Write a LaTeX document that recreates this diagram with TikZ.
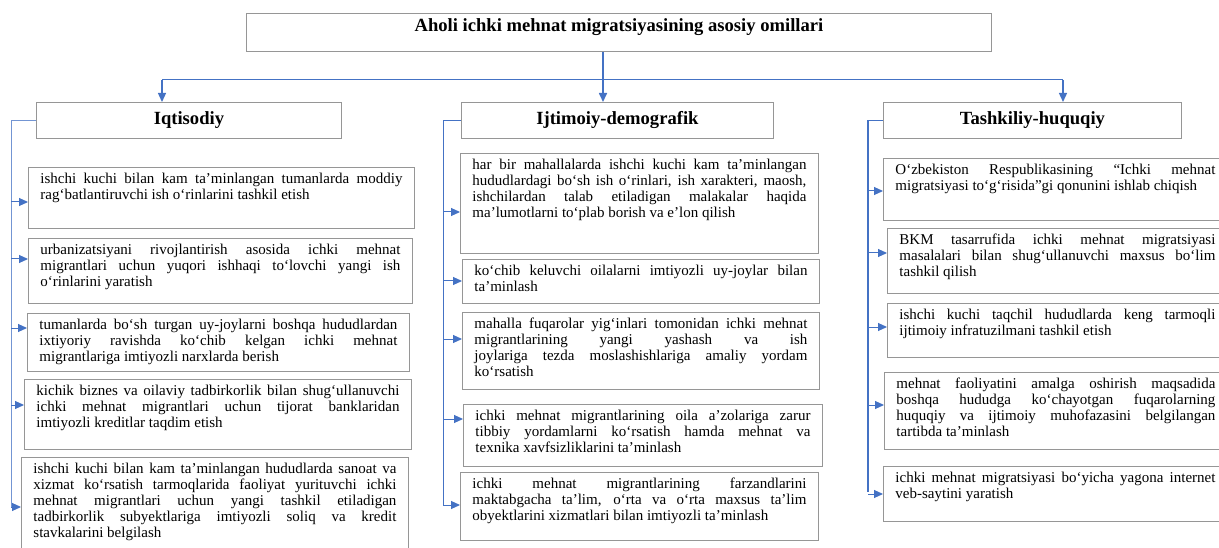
\documentclass[tikz,border=0pt]{standalone}
\usepackage{fontspec}
\setmainfont{Liberation Serif}
\usetikzlibrary{arrows.meta}
\definecolor{linkblue}{RGB}{68,114,196}
\definecolor{boxgray}{RGB}{150,150,150}
\hyphenpenalty=10000
\exhyphenpenalty=10000
\begin{document}
\begin{tikzpicture}[x=1pt, y=-1pt,
  box/.style={draw=boxgray, line width=0.9pt, anchor=north west, align=justify, inner xsep=12pt, inner ysep=5pt, text height=11pt, font=\fontsize{15}{16}\selectfont},
  head/.style={draw=boxgray, line width=0.9pt, anchor=north west, inner sep=0pt, minimum height=36pt, font=\fontsize{18.6}{20}\selectfont\bfseries},
  link/.style={draw=linkblue, line width=1pt},
  arr/.style={link, -{Triangle[length=9pt,width=8pt]}}]

\clip (0,0) rectangle (1219,548);

\node[head, minimum width=745pt, inner ysep=5pt, text height=13pt, text depth=15pt, minimum height=0pt] (title) at (246,13) {Aholi ichki mehnat migratsiyasining asosiy omillari};

\node[head, minimum width=305pt] (iqt) at (36,102) {Iqtisodiy};
\node[head, minimum width=312pt] (ijt) at (461,102) {Ijtimoiy-demografik};
\node[head, minimum width=298pt] (tash) at (883,102) {Tashkiliy-huquqiy};

% Iqtisodiy
\node[box, text width=362pt, text depth=40pt] (l1) at (28,167) {ishchi kuchi bilan kam ta’minlangan tumanlarda moddiy\linebreak rag‘batlantiruvchi ish o‘rinlarini tashkil etish};
\node[box, text width=360pt, text depth=44pt] (l2) at (28,238) {urbanizatsiyani rivojlantirish asosida ichki mehnat\linebreak migrantlari uchun yuqori ishhaqi to‘lovchi yangi ish\linebreak o‘rinlarini yaratish};
\node[box, text width=358pt, text depth=37pt] (l3) at (27,313) {tumanlarda bo‘sh turgan uy-joylarni boshqa hududlardan\linebreak ixtiyoriy ravishda ko‘chib kelgan ichki mehnat\linebreak migrantlariga imtiyozli narxlarda berish};
\node[box, text width=363pt, text depth=49pt] (l4) at (24,379) {kichik biznes va oilaviy tadbirkorlik bilan shug‘ullanuvchi\linebreak ichki mehnat migrantlari uchun tijorat banklaridan\linebreak imtiyozli kreditlar taqdim etish};
\node[box, text width=363pt, text depth=80pt] (l5) at (21,457) {ishchi kuchi bilan kam ta’minlangan hududlarda sanoat va\linebreak xizmat ko‘rsatish tarmoqlarida faoliyat yurituvchi ichki\linebreak mehnat migrantlari uchun yangi tashkil etiladigan\linebreak tadbirkorlik subyektlariga imtiyozli soliq va kredit\linebreak stavkalarini belgilash};

% Ijtimoiy-demografik
\node[box, text width=334pt, text depth=79pt] (m1) at (460,153) {har bir mahallalarda ishchi kuchi kam ta’minlangan\linebreak hududlardagi bo‘sh ish o‘rinlari, ish xarakteri, maosh,\linebreak ishchilardan talab etiladigan malakalar haqida\linebreak ma’lumotlarni to‘plab borish va e’lon qilish};
\node[box, text width=333pt, text depth=23pt] (m2) at (462,259) {ko‘chib keluvchi oilalarni imtiyozli uy-joylar bilan\linebreak ta’minlash};
\node[box, text width=333pt, text depth=56pt] (m3) at (462,312) {mahalla fuqarolar yig‘inlari tomonidan ichki mehnat\linebreak migrantlarining yangi yashash va ish\linebreak joylariga tezda moslashishlariga amaliy yordam\linebreak ko‘rsatish};
\node[box, text width=335pt, text depth=41pt] (m4) at (463,404) {ichki mehnat migrantlarining oila a’zolariga zarur\linebreak tibbiy yordamlarni ko‘rsatish hamda mehnat va\linebreak texnika xavfsizliklarini ta’minlash};
\node[box, text width=334pt, text depth=47pt] (m5) at (460,472) {ichki mehnat migrantlarining farzandlarini\linebreak maktabgacha ta’lim, o‘rta va o‘rta maxsus ta’lim\linebreak obyektlarini xizmatlari bilan imtiyozli ta’minlash};

% Tashkiliy-huquqiy
\node[box, text width=320pt, text depth=41pt] (r1) at (883,158) {O‘zbekiston Respublikasining “Ichki mehnat\linebreak migratsiyasi to‘g‘risida”gi qonunini ishlab chiqish};
\node[box, text width=316pt, text depth=44pt] (r2) at (887,228) {BKM tasarrufida ichki mehnat migratsiyasi\linebreak masalalari bilan shug‘ullanuvchi maxsus bo‘lim\linebreak tashkil qilish};
\node[box, text width=316pt, text depth=33pt] (r3) at (887,303) {ishchi kuchi taqchil hududlarda keng tarmoqli\linebreak ijtimoiy infratuzilmani tashkil etish};
\node[box, text width=319pt, text depth=56pt] (r4) at (884,372) {mehnat faoliyatini amalga oshirish maqsadida\linebreak boshqa hududga ko‘chayotgan fuqarolarning\linebreak huquqiy va ijtimoiy muhofazasini belgilangan\linebreak tartibda ta’minlash};
\node[box, text width=320pt, text depth=34pt] (r5) at (883,466) {ichki mehnat migratsiyasi bo‘yicha yagona internet\linebreak veb-saytini yaratish};

\coordinate (split) at (603,80);
\coordinate (hl) at (162,80);
\coordinate (hr) at (1063,80);
\coordinate (lt) at (11,507);
\coordinate (mt) at (443,505);
\coordinate (rt) at (868,492);

\draw[link] (hl) -- (hr);
\draw[arr, line width=1.6pt] (title.south -| split) -- (ijt.north -| split);
\draw[arr, line width=1.3pt] (hl) -- (iqt.north -| hl);
\draw[arr, line width=1.3pt] (hr) -- (tash.north -| hr);

\draw[link, draw=linkblue!75] (iqt.west) -| (lt);
\draw[link] (ijt.west) -| (mt);
\draw[link, line width=1.8pt] (tash.west) -| (rt);

\foreach \b/\y in {l1/202, l2/259, l3/328, l4/405, l5/507}
  \draw[arr] (lt |- 0,\y) -- (\b.west |- 0,\y);
\foreach \b/\y in {m1/212, m2/281, m3/339, m4/419, m5/505}
  \draw[arr] (mt |- 0,\y) -- (\b.west |- 0,\y);
\foreach \b/\y in {r1/191, r2/253, r3/327, r4/405, r5/494}
  \draw[arr] (rt |- 0,\y) -- (\b.west |- 0,\y);

\end{tikzpicture}
\end{document}
